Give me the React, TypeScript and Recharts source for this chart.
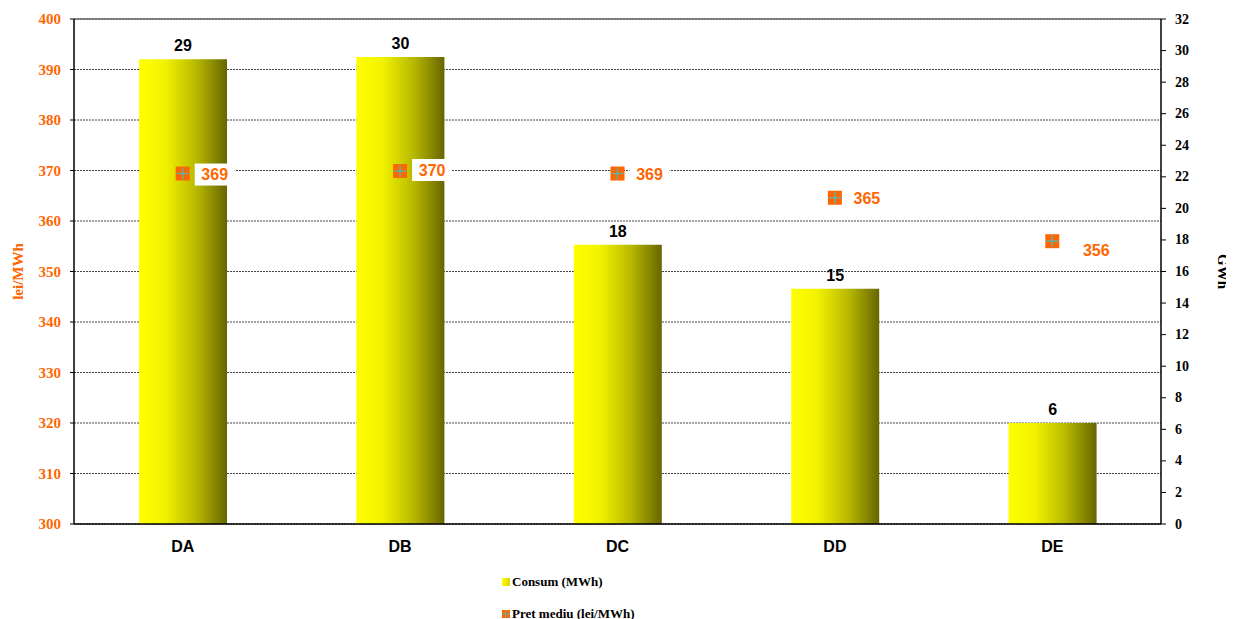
import React from 'react';
import {
  ComposedChart,
  Bar,
  Line,
  XAxis,
  YAxis,
  CartesianGrid,
  LabelList,
  ReferenceLine,
} from 'recharts';

const categories = ['DA', 'DB', 'DC', 'DD', 'DE'];
const consumGWh = [29.45, 29.6, 17.7, 14.9, 6.4];
const pretMediu = [369.4, 369.9, 369.4, 364.6, 356.0];

const leftTicks = [300, 310, 320, 330, 340, 350, 360, 370, 380, 390, 400];
const rightTicks = [0, 2, 4, 6, 8, 10, 12, 14, 16, 18, 20, 22, 24, 26, 28, 30, 32];

// small per-point nudges for the price labels, as in the original
const priceLabelNudge = [
  { dx: 0, dy: 0 },
  { dx: 0, dy: -2 },
  { dx: 0, dy: 0 },
  { dx: 0, dy: 0 },
  { dx: 12, dy: 8 },
];

const ORANGE = '#ff6600';
const SERIF = '"Liberation Serif", "Times New Roman", serif';
const SANS = '"Liberation Sans", Arial, sans-serif';

const data = categories.map((name, i) => ({
  name,
  consum: consumGWh[i],
  price: pretMediu[i],
}));

function PriceMarker(props: any) {
  const { cx, cy, index } = props;
  if (cx == null || cy == null) return null;
  return (
    <g key={`m-${index}`}>
      <rect x={cx - 7} y={cy - 7} width={14} height={14} fill={ORANGE} />
      <line x1={cx - 6} x2={cx + 6} y1={cy} y2={cy} stroke="#5fb3a3" strokeWidth={1.5} />
      <line x1={cx} x2={cx} y1={cy - 6} y2={cy + 6} stroke="#5fb3a3" strokeWidth={1.5} />
    </g>
  );
}

function PriceLabel(props: any) {
  const { x, y, value, index } = props;
  const n = priceLabelNudge[index] || { dx: 0, dy: 0 };
  const tx = x + 32 + n.dx;
  const ty = y + 1 + n.dy;
  return (
    <g>
      <rect x={tx - 20} y={ty - 11} width={40} height={22} fill="#fff" />
      <text
        x={tx}
        y={ty}
        textAnchor="middle"
        dominantBaseline="central"
        fill={ORANGE}
        fontFamily={SANS}
        fontWeight="bold"
        fontSize={16}
      >
        {Math.round(value)}
      </text>
    </g>
  );
}

function LeftTick(props: any) {
  const { x, y, payload } = props;
  return (
    <text
      x={x}
      y={y}
      textAnchor="end"
      dominantBaseline="central"
      style={{ fill: ORANGE, fontFamily: SERIF, fontWeight: 'bold', fontSize: 15 }}
    >
      {payload.value}
    </text>
  );
}

function RightTick(props: any) {
  const { x, y, payload } = props;
  return (
    <text
      x={x}
      y={y}
      textAnchor="start"
      dominantBaseline="central"
      style={{ fill: '#000', fontFamily: SERIF, fontWeight: 'bold', fontSize: 14 }}
    >
      {payload.value}
    </text>
  );
}

function XTick(props: any) {
  const { x, y, payload } = props;
  return (
    <text
      x={x}
      y={y + 7}
      textAnchor="middle"
      dominantBaseline="central"
      style={{ fill: '#000', fontFamily: SANS, fontWeight: 'bold', fontSize: 16 }}
    >
      {payload.value}
    </text>
  );
}

export default function App() {
  return (
    <div style={{ position: 'relative', width: 1226, height: 611 }}>
      <ComposedChart
        width={1226}
        height={611}
        data={data}
        margin={{ top: 11, right: 0, bottom: 0, left: 0 }}
      >
        <defs>
          <linearGradient id="barGrad" x1="0" y1="0" x2="1" y2="0">
            <stop offset="0%" stopColor="#ffff00" />
            <stop offset="30%" stopColor="#f2f200" />
            <stop offset="65%" stopColor="#b8b800" />
            <stop offset="100%" stopColor="#666600" />
          </linearGradient>
        </defs>
        <CartesianGrid
          yAxisId="left"
          vertical={false}
          stroke="#444"
          strokeDasharray="2 1"
        />
        <ReferenceLine yAxisId="left" y={400} stroke="#666" strokeWidth={1.5} />
        <XAxis
          dataKey="name"
          height={95}
          axisLine={{ stroke: '#000', strokeWidth: 1.5 }}
          tickLine={false}
          tickSize={0}
          tickMargin={15}
          tick={<XTick />}
        />
        <YAxis
          yAxisId="left"
          orientation="left"
          width={66}
          domain={[300, 400]}
          ticks={leftTicks}
          interval={0}
          axisLine={{ stroke: '#000', strokeWidth: 1.5 }}
          tickLine={{ stroke: '#000' }}
          tickSize={4}
          tickMargin={9}
          tick={<LeftTick />}
          label={(p: any) => {
            const vb = p.viewBox;
            const cx = 10;
            const cy = vb.y + vb.height / 2;
            return (
              <text
                x={cx}
                y={cy}
                transform={`rotate(-90, ${cx}, ${cy})`}
                textAnchor="middle"
                dominantBaseline="central"
                style={{ fill: ORANGE, fontFamily: SERIF, fontWeight: 'bold', fontSize: 15 }}
              >
                lei/MWh
              </text>
            );
          }}
        />
        <YAxis
          yAxisId="right"
          orientation="right"
          width={73}
          domain={[0, 32]}
          ticks={rightTicks}
          interval={0}
          axisLine={{ stroke: '#000', strokeWidth: 1.5 }}
          tickLine={{ stroke: '#000' }}
          tickSize={5}
          tickMargin={9}
          tick={<RightTick />}
          label={(p: any) => {
            const vb = p.viewBox;
            const cx = 1215;
            const cy = vb.y + vb.height / 2;
            return (
              <text
                x={cx}
                y={cy}
                transform={`rotate(90, ${cx}, ${cy})`}
                textAnchor="middle"
                dominantBaseline="central"
                style={{ fill: '#000', fontFamily: SERIF, fontWeight: 'bold', fontSize: 15 }}
              >
                GWh
              </text>
            );
          }}
        />
        <Bar
          yAxisId="right"
          dataKey="consum"
          barSize={88}
          fill="url(#barGrad)"
          isAnimationActive={false}
        >
          <LabelList
            dataKey="consum"
            position="top"
            offset={8}
            formatter={(v: any) => Math.round(Number(v))}
            style={{ fill: '#000', fontFamily: SANS, fontWeight: 'bold', fontSize: 16 }}
          />
        </Bar>
        <Line
          yAxisId="left"
          dataKey="price"
          stroke="none"
          dot={PriceMarker}
          activeDot={false}
          isAnimationActive={false}
        >
          <LabelList dataKey="price" content={PriceLabel} />
        </Line>
      </ComposedChart>

      <div
        style={{
          position: 'absolute',
          left: 494,
          top: 566,
          fontFamily: SERIF,
          fontWeight: 'bold',
          fontSize: 13,
          color: '#000',
          lineHeight: '15px',
        }}
      >
        <div style={{ display: 'flex', alignItems: 'center' }}>
          <span
            style={{
              display: 'inline-block',
              width: 8,
              height: 8,
              marginRight: 2,
              background: 'linear-gradient(to right, #ffff00, #d8d800)',
            }}
          />
          Consum (MWh)
        </div>
        <div style={{ display: 'flex', alignItems: 'center', marginTop: 17 }}>
          <svg width={8} height={8} style={{ marginRight: 2 }}>
            <rect x={0} y={0} width={8} height={8} fill={ORANGE} />
            <line x1={0} x2={8} y1={4} y2={4} stroke="#5fb3a3" strokeWidth={1} />
            <line x1={4} x2={4} y1={0} y2={8} stroke="#5fb3a3" strokeWidth={1} />
          </svg>
          Pret mediu (lei/MWh)
        </div>
      </div>
    </div>
  );
}
